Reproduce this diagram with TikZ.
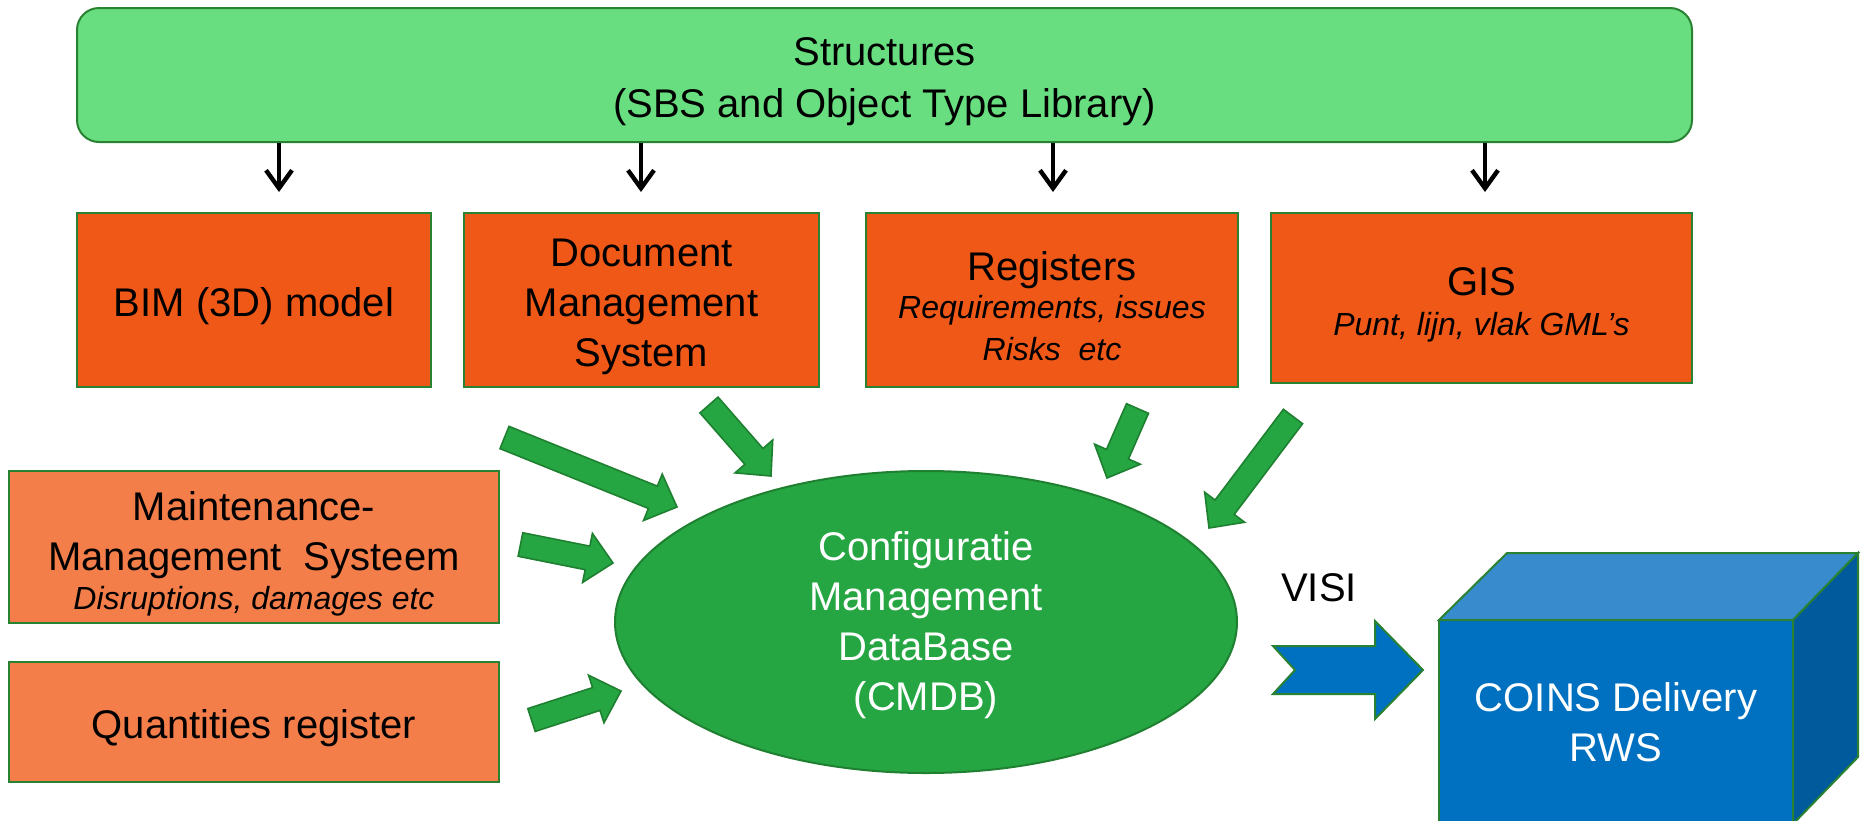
\documentclass[tikz,border=0pt]{standalone}
\usepackage{fontspec}
\setmainfont{Liberation Sans}
\usetikzlibrary{shapes.geometric,calc,arrows.meta}
\definecolor{structfill}{RGB}{104,222,128}
\definecolor{bdgreen}{RGB}{40,130,50}
\definecolor{orng}{RGB}{240,88,24}
\definecolor{lorng}{RGB}{243,126,74}
\definecolor{ellfill}{RGB}{37,166,66}
\definecolor{ellline}{RGB}{30,128,48}
\definecolor{bfront}{RGB}{0,112,192}
\definecolor{btop}{RGB}{56,139,204}
\definecolor{bright}{RGB}{0,90,156}
\newcommand\tp{\rule{0pt}{21pt}}
\newcommand\blockarrow[2]{%
  \coordinate (ba-h) at ($(#2)!13pt!(#1)$);
  \draw[garrow] ($(#1)!6pt!90:(#2)$) -- ($(ba-h)!6pt!90:(#2)$) -- ($(ba-h)!12.5pt!90:(#2)$)
    -- (#2) -- ($(ba-h)!12.5pt!-90:(#2)$) -- ($(ba-h)!6pt!-90:(#2)$) -- ($(#1)!6pt!-90:(#2)$) -- cycle;}
\begin{document}
\begin{tikzpicture}[x=0.5pt,y=-0.5pt,
  box/.style={draw=bdgreen, line width=1pt, inner sep=0pt, align=center, text=black},
  mainfont/.style={font=\fontsize{20}{25}\selectfont},
  blk/.style={line width=2.2pt, -{Straight Barb[length=9pt,width=13pt]}},
  garrow/.style={fill=ellfill, draw=ellline, line width=0.8pt, line join=miter}]
\useasboundingbox (0,0) rectangle (1864,820);

% top structure box
\node[box, fill=structfill, rounded corners=11pt, minimum width=807.5pt, minimum height=67pt,
  font=\fontsize{20}{26}\selectfont] (struct) at (884.5,75) {\tp Structures\\(SBS and Object Type Library)};

% orange boxes
\node[box, fill=orng, minimum width=177pt, minimum height=87pt, mainfont] (bim) at (254,300) {\tp BIM (3D) model};
\node[box, fill=orng, minimum width=177.5pt, minimum height=87pt, mainfont] (doc) at (641.5,300) {\tp Document\\Management\\System};
\node[box, fill=orng, minimum width=186pt, minimum height=87pt, font=\fontsize{20}{20}\selectfont] (reg) at (1052,300)
  {\tp Registers\\[-1pt]{\itshape\fontsize{16}{20}\selectfont Requirements, issues}\\[1pt]{\itshape\fontsize{16}{20}\selectfont Risks\ \ etc}};
\node[box, fill=orng, minimum width=210.5pt, minimum height=85pt, font=\fontsize{20}{20}\selectfont] (gis) at (1481.5,298)
  {\tp GIS\\{\itshape\fontsize{16}{20}\selectfont Punt, lijn, vlak GML’s}};
\node[box, fill=lorng, minimum width=245pt, minimum height=76pt, mainfont] (mms) at (254,547)
  {\tp Maintenance-\\Management\ \ Systeem\\[-5.5pt]{\itshape\fontsize{16}{20}\selectfont Disruptions, damages etc}};
\node[box, fill=lorng, minimum width=245pt, minimum height=60pt, mainfont] (qr) at (254,722) {\tp Quantities register};

% black arrows from structures
\coordinate (k1) at (279,192);
\coordinate (k2) at (641,192);
\coordinate (k3) at (1053,192);
\coordinate (k4) at (1485,192);
\foreach \k in {k1,k2,k3,k4} \draw[blk] (\k |- struct.south) -- (\k);

% central ellipse
\node[ellipse, fill=ellfill, draw=ellline, line width=1pt, minimum width=311pt, minimum height=151pt,
  inner sep=0pt, text=white, align=center, mainfont] (cmdb) at (926,622)
  {\rule{0pt}{18pt}Configuratie\\Management\\DataBase\\(CMDB)};

% green block arrows
\coordinate (tA) at (504.5,437.5); \coordinate (pA) at (677,507);
\coordinate (tB) at (709,405);     \coordinate (pB) at (771,476);
\coordinate (tC) at (1137.5,408.5);\coordinate (pC) at (1107,478);
\coordinate (tD) at (1293,416.5);  \coordinate (pD) at (1209,528);
\coordinate (tE) at (520.5,544.5); \coordinate (pE) at (613,563);
\coordinate (tF) at (531.5,720);   \coordinate (pF) at (621,691);
\blockarrow{tA}{pA}
\blockarrow{tB}{pB}
\blockarrow{tC}{pC}
\blockarrow{tD}{pD}
\blockarrow{tE}{pE}
\blockarrow{tF}{pF}

% cube
\begin{scope}[draw=bdgreen, line width=1pt, line join=miter]
\filldraw[fill=bfront] (1439,620) -- (1793,620) -- (1793,840) -- (1439,840) -- cycle;
\filldraw[fill=btop] (1439,620) -- (1507,553) -- (1858,553) -- (1793,620) -- cycle;
\filldraw[fill=bright] (1793,620) -- (1858,553) -- (1858,757) -- (1793,824) -- cycle;
\end{scope}
\node[text=white, align=center, mainfont] (coins) at (1616,722) {COINS Delivery\\RWS};

% VISI arrow
\coordinate (vt) at (1273,670);
\coordinate (vp) at (1423,670);
\filldraw[fill=bfront, draw=bdgreen, line width=1pt, line join=miter]
  ($(vt)+(0,-24)$) -- ($(vp)+(-48,-24)$) -- ($(vp)+(-48,-49)$) -- (vp)
  -- ($(vp)+(-48,49)$) -- ($(vp)+(-48,24)$) -- ($(vt)+(0,24)$) -- ($(vt)+(22,0)$) -- cycle;
\node[mainfont, inner sep=0pt] (visi) at (1319,588) {VISI};
\end{tikzpicture}
\end{document}
